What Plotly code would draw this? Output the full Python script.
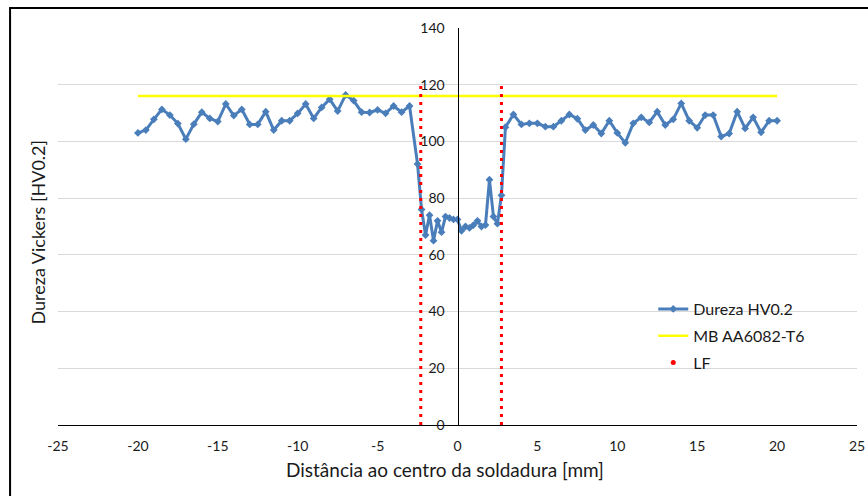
import plotly.graph_objects as go

# ---- data ----
dist_left = [-20, -19.5, -19, -18.5, -18, -17.5, -17, -16.5, -16, -15.5, -15, -14.5, -14, -13.5,
             -13, -12.5, -12, -11.5, -11, -10.5, -10, -9.5, -9, -8.5, -8, -7.5, -7, -6.5, -6,
             -5.5, -5, -4.5, -4, -3.5, -3]
hv_left = [103, 104, 107.8, 111.3, 109.3, 106.3, 100.8, 106.1, 110.3, 108.1, 107, 113.2, 109.1, 111.3,
           106, 106, 110.5, 104, 107.3, 107.3, 109.9, 113.2, 108.1, 112, 114.9, 110.7, 116.4, 114.4, 110.3,
           110.2, 111.1, 109.9, 112.5, 110.3, 112.5]
dist_mid = [-2.5, -2.25, -2.0, -1.75, -1.5, -1.25, -1.0, -0.75, -0.5, -0.25, 0, 0.25, 0.5, 0.75,
            1.0, 1.25, 1.5, 1.75, 2.0, 2.25, 2.5, 2.75]
hv_mid = [92, 76, 67, 74, 65, 72, 68, 73.5, 73, 72.5, 72.5, 68.5, 70, 69.5,
          70.5, 72, 70, 70.5, 86.5, 73.5, 71, 81]
dist_right = [3.0, 3.5, 4.0, 4.5, 5.0, 5.5, 6.0, 6.5, 7.0, 7.5, 8.0, 8.5, 9.0, 9.5, 10.0, 10.5,
              11.0, 11.5, 12.0, 12.5, 13.0, 13.5, 14.0, 14.5, 15.0, 15.5, 16.0, 16.5, 17.0, 17.5,
              18.0, 18.5, 19.0, 19.5, 20.0]
hv_right = [105, 109.5, 106, 106.4, 106.4, 105.2, 105.2, 107.3, 109.5, 108, 104, 105.8, 102.8, 107.3,
            103, 99.5, 106.4, 108.5, 106.7, 110.5, 105.8, 107.8, 113.4, 107.3, 104.8, 109.3, 109.3,
            101.7, 102.8, 110.5, 104.6, 108.5, 103.2, 107.3, 107.3]

dist = dist_left + dist_mid + dist_right
hv = hv_left + hv_mid + hv_right

mb_x = [-20, 20]
mb_y = [116, 116]

lf_positions = [-2.3, 2.75]
lf_range = [0, 121]

x_ticks = [-25, -20, -15, -10, -5, 0, 5, 10, 15, 20, 25]
x_tick_text = ["-25", "-20", "-15", "-10", "-5", "0", "5", "10", "15", "20", "25"]
y_ticks = [0, 20, 40, 60, 80, 100, 120, 140]

FONT = "Lato, 'Open Sans', sans-serif"
TXT = "#1a1a1a"

fig = go.Figure()

fig.add_trace(go.Scatter(
    x=dist, y=hv, mode="lines+markers", name="Dureza HV0.2", legendgroup="a",
    line=dict(color="#4A7EBB", width=3),
    marker=dict(symbol="diamond", size=6, color="#4A7EBB"),
))
fig.add_trace(go.Scatter(
    x=mb_x, y=mb_y, mode="lines", name="MB AA6082-T6", legendgroup="b",
    line=dict(color="#FFFF00", width=2.5),
))
lf_x, lf_y = [], []
for p in lf_positions:
    lf_x += [p, p, None]
    lf_y += [lf_range[0], lf_range[1], None]
fig.add_trace(go.Scatter(
    x=lf_x, y=lf_y, mode="lines", name="LF", legendgroup="c", showlegend=False,
    line=dict(color="#FF0000", width=3, dash="3px,5px"),
))
# legend entry for LF (single red dot, as in the reference legend)
fig.add_trace(go.Scatter(
    x=[None], y=[None], mode="markers", name="LF", legendgroup="c",
    marker=dict(color="#FF0000", size=5, symbol="circle"),
))

fig.update_layout(
    width=868, height=496,
    margin=dict(l=58, r=11, t=28, b=71),
    paper_bgcolor="white", plot_bgcolor="white",
    font=dict(family=FONT, size=14, color=TXT),
    showlegend=True,
    legend=dict(x=0.745, y=0.335, xanchor="left", yanchor="top",
                bgcolor="rgba(0,0,0,0)", font=dict(size=16, color=TXT),
                traceorder="grouped", tracegroupgap=3),
    xaxis=dict(range=[-25, 25], tickvals=x_ticks, ticktext=x_tick_text,
               showgrid=False, zeroline=False, automargin=False,
               showline=True, linecolor="black", linewidth=1, ticks="",
               ticklabelstandoff=8, tickfont=dict(size=14, color=TXT)),
    yaxis=dict(range=[0, 140], tickvals=y_ticks, showgrid=True, gridcolor="#D9D9D9",
               gridwidth=1, zeroline=False, showline=True, linecolor="black",
               linewidth=1, ticks="", anchor="free", position=0.5, automargin=False,
               ticklabelstandoff=10, tickfont=dict(size=14, color=TXT)),
    annotations=[
        dict(text="Distância ao centro da soldadura [mm]", xref="paper", yref="paper",
             x=0.484, y=-0.113, showarrow=False, font=dict(size=19, color=TXT),
             xanchor="center", yanchor="middle"),
        dict(text="Dureza Vickers [HV0.2]", xref="paper", yref="paper",
             x=-0.025, y=0.485, showarrow=False, textangle=-90,
             font=dict(size=18, color=TXT), xanchor="center", yanchor="middle"),
    ],
    shapes=[
        dict(type="rect", xref="paper", yref="paper", x0=-0.06, y0=-0.2, x1=1.05, y1=1.0504,
             line=dict(color="black", width=2), fillcolor="rgba(0,0,0,0)", layer="above"),
    ],
)

fig.write_html("out.html")
